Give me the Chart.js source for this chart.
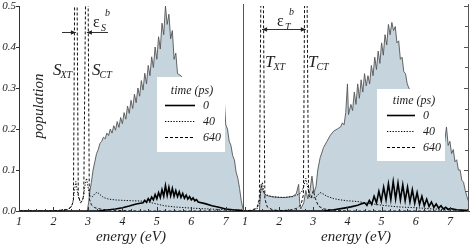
<!DOCTYPE html>
<html>
<head>
<meta charset="utf-8">
<title>Population vs energy</title>
<script src="https://cdn.jsdelivr.net/npm/chart.js"></script>
<style>
  html, body { margin: 0; padding: 0; background: #fff; }
  .wrap { position: relative; width: 470px; height: 247px; overflow: hidden; }
  canvas { position: absolute; top: 0; }
  #singletChart { left: 0; }
  #tripletChart { left: 243px; }
</style>
</head>
<body>
<div class="wrap">
  <canvas id="singletChart" width="243" height="247"></canvas>
  <canvas id="tripletChart" width="227" height="247"></canvas>
</div>
<script>
const SERIF = '"Liberation Serif", "Times New Roman", serif';
const INK = "#222";
const AXIS = "#333";
const FILL = "rgb(197, 212, 221)";
const EDGE = "#555";

const xTicks = [1, 2, 3, 4, 5, 6, 7];
const yTicks = [0, 0.1, 0.2, 0.3, 0.4, 0.5];
const times = ["0", "40", "640"];

// left panel (singlets)
const sRange = [1, 7.5];
const sPeaks = [2.65, 2.97];
const sFill = [
  [2.98, 0], [3.02, 0.02], [3.06, 0.05], [3.1, 0.07], [3.15, 0.1], [3.2, 0.12], [3.25, 0.14],
  [3.3, 0.15], [3.35, 0.165], [3.4, 0.17], [3.45, 0.18], [3.5, 0.176], [3.55, 0.19], [3.6, 0.184],
  [3.65, 0.2], [3.7, 0.19], [3.75, 0.208], [3.8, 0.197], [3.85, 0.218], [3.9, 0.204], [3.95, 0.228],
  [4.0, 0.213], [4.05, 0.24], [4.1, 0.224], [4.15, 0.256], [4.2, 0.238], [4.25, 0.27], [4.3, 0.25],
  [4.35, 0.285], [4.4, 0.264], [4.45, 0.3], [4.5, 0.28], [4.55, 0.318], [4.6, 0.295], [4.65, 0.336],
  [4.7, 0.31], [4.75, 0.355], [4.8, 0.33], [4.85, 0.376], [4.9, 0.35], [4.95, 0.4], [5.0, 0.37],
  [5.05, 0.425], [5.1, 0.395], [5.15, 0.458], [5.2, 0.43], [5.25, 0.5], [5.3, 0.455], [5.35, 0.48],
  [5.4, 0.42], [5.45, 0.44], [5.5, 0.37], [5.55, 0.385], [5.6, 0.335], [5.7, 0.33], [5.8, 0.32],
  [5.9, 0.315], [6.0, 0.31], [6.2, 0.3], [6.4, 0.29], [6.6, 0.285], [6.8, 0.28], [6.9, 0.27],
  [6.95, 0.28], [7.0, 0.21], [7.05, 0.2], [7.1, 0.17], [7.15, 0.16], [7.2, 0.135], [7.25, 0.125],
  [7.3, 0.095], [7.35, 0.08], [7.4, 0.055], [7.45, 0.025], [7.5, 0.005],
];
const s0 = [
  [1, 0], [3.3, 0], [3.5, 0.002], [3.8, 0.005], [4.0, 0.008], [4.2, 0.012], [4.4, 0.017], [4.6, 0.02],
  [4.65, 0.026], [4.7, 0.021], [4.75, 0.03], [4.8, 0.024], [4.85, 0.034], [4.9, 0.027], [4.95, 0.04],
  [5.0, 0.03], [5.05, 0.045], [5.1, 0.033], [5.15, 0.052], [5.2, 0.036], [5.25, 0.062], [5.3, 0.038],
  [5.35, 0.058], [5.4, 0.037], [5.45, 0.055], [5.5, 0.036], [5.55, 0.05], [5.6, 0.035], [5.65, 0.047],
  [5.7, 0.033], [5.75, 0.043], [5.8, 0.031], [5.85, 0.039], [5.9, 0.029], [5.95, 0.035], [6.0, 0.027],
  [6.05, 0.032], [6.1, 0.025], [6.15, 0.028], [6.2, 0.022], [6.4, 0.018], [6.6, 0.013], [6.8, 0.009],
  [7.0, 0.005], [7.2, 0.003], [7.5, 0.001],
];
const s40 = [
  [1, 0], [2.2, 0], [2.4, 0.003], [2.5, 0.008], [2.56, 0.02], [2.61, 0.05], [2.65, 0.072], [2.69, 0.05],
  [2.74, 0.028], [2.8, 0.022], [2.86, 0.03], [2.91, 0.06], [2.96, 0.08], [3.0, 0.06], [3.05, 0.038],
  [3.12, 0.034], [3.2, 0.042], [3.27, 0.046], [3.35, 0.04], [3.45, 0.033], [3.6, 0.029], [3.8, 0.027],
  [4.0, 0.026], [4.3, 0.025], [4.6, 0.024], [4.8, 0.021], [5.0, 0.017], [5.2, 0.013], [5.5, 0.01],
  [6.0, 0.007], [6.5, 0.005], [7.0, 0.003], [7.5, 0.002],
];
const s640 = [
  [1, 0], [2.0, 0], [2.2, 0.002], [2.4, 0.004], [2.52, 0.01], [2.58, 0.025], [2.62, 0.6], [2.68, 0.6],
  [2.72, 0.04], [2.78, 0.02], [2.84, 0.024], [2.88, 0.04], [2.94, 0.6], [3.0, 0.6], [3.04, 0.03],
  [3.1, 0.015], [3.2, 0.008], [3.4, 0.004], [3.7, 0.002], [4.0, 0.001], [4.5, 0], [7.5, 0],
];

// right panel (triplets)
const tRange = [0.94, 7.56];
const tPeaks = [1.5, 2.78];
const tFill = [
  [1.42, 0], [1.47, 0.065], [1.52, 0.05], [1.58, 0.04], [1.7, 0.036], [1.85, 0.034], [2.0, 0.033],
  [2.2, 0.033], [2.4, 0.036], [2.5, 0.042], [2.57, 0.065], [2.6, 0.02], [2.63, 0.005], [2.72, 0.02],
  [2.78, 0.05], [2.84, 0.03], [2.9, 0.05], [2.96, 0.085], [3.02, 0.045], [3.08, 0.06], [3.13, 0.1],
  [3.2, 0.13], [3.3, 0.155], [3.4, 0.17], [3.5, 0.185], [3.6, 0.195], [3.7, 0.2], [3.8, 0.205],
  [3.85, 0.215], [3.9, 0.21], [3.95, 0.24], [4.0, 0.31], [4.03, 0.235], [4.1, 0.26], [4.15, 0.245],
  [4.2, 0.29], [4.25, 0.26], [4.3, 0.31], [4.35, 0.275], [4.4, 0.32], [4.45, 0.29], [4.5, 0.335],
  [4.55, 0.305], [4.6, 0.33], [4.65, 0.31], [4.7, 0.355], [4.75, 0.33], [4.8, 0.375], [4.85, 0.345],
  [4.9, 0.39], [4.95, 0.36], [5.0, 0.41], [5.05, 0.38], [5.1, 0.43], [5.15, 0.405], [5.2, 0.455],
  [5.25, 0.43], [5.3, 0.46], [5.35, 0.44], [5.4, 0.45], [5.45, 0.41], [5.5, 0.415], [5.55, 0.37],
  [5.6, 0.375], [5.65, 0.34], [5.7, 0.335], [5.75, 0.31], [5.8, 0.3], [5.9, 0.28], [6.1, 0.26],
  [6.3, 0.24], [6.5, 0.22], [6.7, 0.2], [6.85, 0.17], [6.9, 0.205], [6.95, 0.16], [7.0, 0.17],
  [7.05, 0.14], [7.1, 0.15], [7.15, 0.12], [7.2, 0.125], [7.25, 0.1], [7.3, 0.1], [7.35, 0.075],
  [7.4, 0.07], [7.45, 0.05], [7.5, 0.035], [7.56, 0.02],
];
const t0 = [
  [0.94, 0], [3.3, 0], [3.6, 0.003], [3.9, 0.007], [4.1, 0.01], [4.3, 0.014], [4.43, 0.018],
  [4.5, 0.02], [4.57, 0.014], [4.64, 0.026], [4.71, 0.016], [4.78, 0.036], [4.85, 0.02], [4.92, 0.048],
  [4.99, 0.024], [5.06, 0.058], [5.13, 0.027], [5.2, 0.066], [5.27, 0.028], [5.34, 0.072], [5.41, 0.029],
  [5.48, 0.068], [5.55, 0.027], [5.62, 0.064], [5.69, 0.025], [5.76, 0.058], [5.83, 0.022], [5.9, 0.052],
  [5.97, 0.019], [6.04, 0.045], [6.11, 0.016], [6.18, 0.036], [6.25, 0.013], [6.32, 0.029], [6.39, 0.011],
  [6.46, 0.022], [6.53, 0.009], [6.6, 0.017], [6.67, 0.007], [6.74, 0.013], [6.81, 0.005], [6.88, 0.009],
  [6.95, 0.004], [7.02, 0.006], [7.2, 0.003], [7.56, 0.001],
];
const t40 = [
  [0.94, 0], [1.2, 0.001], [1.35, 0.005], [1.42, 0.02], [1.47, 0.055], [1.51, 0.07], [1.55, 0.045],
  [1.6, 0.04], [1.8, 0.035], [2.1, 0.033], [2.4, 0.035], [2.55, 0.04], [2.65, 0.045], [2.72, 0.06],
  [2.78, 0.08], [2.84, 0.055], [2.9, 0.04], [3.0, 0.032], [3.1, 0.036], [3.2, 0.045], [3.28, 0.042],
  [3.4, 0.036], [3.6, 0.03], [3.8, 0.027], [4.0, 0.025], [4.3, 0.023], [4.6, 0.019], [5.0, 0.014],
  [5.5, 0.01], [6.0, 0.008], [6.5, 0.005], [7.0, 0.003], [7.56, 0.001],
];
const t640 = [
  [0.94, 0], [1.2, 0.002], [1.35, 0.008], [1.42, 0.03], [1.47, 0.6], [1.53, 0.6], [1.58, 0.03],
  [1.65, 0.01], [1.8, 0.003], [2.0, 0.001], [2.3, 0.002], [2.5, 0.006], [2.64, 0.015], [2.71, 0.04],
  [2.75, 0.6], [2.81, 0.6], [2.86, 0.04], [2.93, 0.03], [3.0, 0.05], [3.06, 0.03], [3.15, 0.012],
  [3.3, 0.005], [3.6, 0.002], [4.0, 0], [7.56, 0],
];

const lineStyles = [
  { borderWidth: 1.6, borderDash: [] },
  { borderWidth: 1, borderDash: [1.3, 1.5] },
  { borderWidth: 1, borderDash: [3, 2] },
];

function series(fillPts, p0, p40, p640) {
  const pts = (arr) => arr.map(([x, y]) => ({ x, y }));
  return [
    { label: "0", data: pts(p0), borderColor: "#000", order: 0, ...lineStyles[0] },
    { label: "40", data: pts(p40), borderColor: "#111", order: 1, ...lineStyles[1] },
    { label: "640", data: pts(p640), borderColor: "#111", order: 2, ...lineStyles[2] },
    { label: "spectrum", data: pts(fillPts), borderColor: EDGE, borderWidth: 0.9, backgroundColor: FILL, fill: "origin", order: 3 },
  ];
}

function makeScales(range, showY) {
  return {
    x: {
      type: "linear",
      min: range[0],
      max: range[1],
      afterBuildTicks: (s) => { s.ticks = xTicks.map((value) => ({ value })); },
      afterFit: (s) => { s.height = 36; s.paddingLeft = 0; s.paddingRight = 0; },
      grid: { display: false, drawTicks: false },
      border: { display: true, color: AXIS, width: 1 },
      ticks: { color: INK, padding: 4, font: { family: SERIF, style: "italic", size: 12 } },
      title: {
        display: true,
        text: "energy (eV)",
        color: INK,
        padding: { top: 0, bottom: 1 },
        font: { family: SERIF, style: "italic", size: 15 },
      },
    },
    y: {
      display: showY,
      min: 0,
      max: 0.5,
      afterBuildTicks: (s) => { s.ticks = yTicks.map((value) => ({ value })); },
      afterFit: (s) => { s.width = showY ? 19 : 0; s.paddingTop = 0; s.paddingBottom = 0; },
      grid: { display: false, drawTicks: false },
      border: { display: true, color: AXIS, width: 1 },
      ticks: {
        color: INK,
        padding: 3,
        callback: (v) => Number(v).toFixed(1),
        font: { family: SERIF, style: "italic", size: 11 },
      },
    },
  };
}

function arrow(ctx, x0, x1, yy) {
  const dir = Math.sign(x1 - x0);
  ctx.beginPath();
  ctx.moveTo(x0, yy);
  ctx.lineTo(x1, yy);
  ctx.stroke();
  ctx.beginPath();
  ctx.moveTo(x1, yy);
  ctx.lineTo(x1 - dir * 5, yy - 2.2);
  ctx.lineTo(x1 - dir * 5, yy + 2.2);
  ctx.closePath();
  ctx.fill();
}

function stateLabel(ctx, x0, yb, main, sub) {
  ctx.font = `italic 17px ${SERIF}`;
  ctx.fillText(main, x0, yb);
  const w = ctx.measureText(main).width;
  ctx.font = `italic 10px ${SERIF}`;
  ctx.fillText(sub, x0 + w - 1, yb + 3);
}

function gapLabel(ctx, x0, yb, sub) {
  ctx.font = `16px ${SERIF}`;
  ctx.fillText("\u03b5", x0, yb);
  ctx.font = `italic 10px ${SERIF}`;
  ctx.fillText(sub, x0 + 8, yb + 4);
  ctx.fillText("b", x0 + 12, yb - 11);
}

function drawLegend(ctx, chart, L) {
  ctx.fillStyle = "#fff";
  ctx.fillRect(L.x, L.y, L.w, L.h);
  ctx.fillStyle = INK;
  ctx.font = `italic 12px ${SERIF}`;
  ctx.textAlign = "center";
  ctx.textBaseline = "middle";
  ctx.fillText("time (ps)", L.titleX, L.titleY);
  ctx.textAlign = "left";
  times.forEach((t, i) => {
    const ds = chart.data.datasets[i];
    const yy = L.rows[i] + 0.5;
    ctx.strokeStyle = "#000";
    ctx.lineWidth = ds.borderWidth;
    ctx.setLineDash(ds.borderDash);
    ctx.beginPath();
    ctx.moveTo(L.lineX0, yy);
    ctx.lineTo(L.lineX1, yy);
    ctx.stroke();
    ctx.fillText(t, L.textX, yy);
  });
  ctx.setLineDash([]);
}

function decor(side) {
  return {
    id: "decor",
    afterDraw(chart) {
      const { ctx, chartArea: a } = chart;
      const { x, y } = chart.scales;
      ctx.save();
      ctx.lineWidth = 1;
      ctx.strokeStyle = AXIS;
      ctx.fillStyle = INK;

      // energy ticks point up into the plot
      ctx.beginPath();
      for (let i = Math.ceil(x.min * 4); i <= Math.floor(x.max * 4); i++) {
        const px = Math.round(x.getPixelForValue(i / 4)) + 0.5;
        ctx.moveTo(px, a.bottom);
        ctx.lineTo(px, a.bottom - (i % 4 === 0 ? 4 : 2));
      }
      ctx.stroke();

      ctx.textAlign = "left";
      ctx.textBaseline = "alphabetic";
      if (side === "left") {
        ctx.beginPath();
        yTicks.forEach((v) => {
          const py = Math.round(y.getPixelForValue(v)) + 0.5;
          ctx.moveTo(a.left - 3, py);
          ctx.lineTo(a.left, py);
        });
        ctx.stroke();

        ctx.save();
        ctx.translate(39, 106);
        ctx.rotate(-Math.PI / 2);
        ctx.font = `italic 15px ${SERIF}`;
        ctx.textAlign = "center";
        ctx.textBaseline = "middle";
        ctx.fillText("population", 0, 0);
        ctx.restore();

        stateLabel(ctx, 53, 75, "S", "XT");
        stateLabel(ctx, 92, 75, "S", "CT");
        gapLabel(ctx, 93, 27, "S");
        const [p1, p2] = sPeaks.map((e) => x.getPixelForValue(e));
        arrow(ctx, 62, p1, 32.5);
        arrow(ctx, 108, p2, 32.5);

        drawLegend(ctx, chart, {
          x: 157, y: 77, w: 68, h: 75, titleX: 192, titleY: 91,
          rows: [105, 121, 137], lineX0: 165, lineX1: 195, textX: 203,
        });
      } else {
        ctx.strokeStyle = "#555";
        ctx.beginPath();
        ctx.moveTo(a.left + 0.5, a.top - 2);
        ctx.lineTo(a.left + 0.5, a.bottom);
        ctx.moveTo(a.right - 0.5, a.top - 2);
        ctx.lineTo(a.right - 0.5, a.bottom);
        for (let i = 0; i <= 10; i++) {
          const py = Math.round(y.getPixelForValue(i * 0.05)) + 0.5;
          ctx.moveTo(a.right, py);
          ctx.lineTo(a.right - (i % 2 === 0 ? 5 : 4), py);
        }
        ctx.stroke();

        ctx.strokeStyle = AXIS;
        stateLabel(ctx, 22, 67, "T", "XT");
        stateLabel(ctx, 65, 67, "T", "CT");
        gapLabel(ctx, 34, 26, "T");
        const [p1, p2] = tPeaks.map((e) => x.getPixelForValue(e));
        const mid = (p1 + p2) / 2;
        arrow(ctx, mid, p1, 29.5);
        arrow(ctx, mid, p2, 29.5);

        drawLegend(ctx, chart, {
          x: 134, y: 89, w: 68, h: 72, titleX: 171, titleY: 101,
          rows: [115, 131, 147], lineX0: 144, lineX1: 172, textX: 180,
        });
      }
      ctx.restore();
    },
  };
}

function buildChart(id, side, range, data) {
  return new Chart(document.getElementById(id), {
    type: "line",
    data: { datasets: data },
    options: {
      responsive: false,
      animation: false,
      events: [],
      layout: { padding: { top: 6, right: side === "left" ? 0 : 1, left: 0, bottom: 0 } },
      elements: { point: { radius: 0 }, line: { tension: 0 } },
      plugins: { legend: { display: false }, tooltip: { enabled: false } },
      scales: makeScales(range, side === "left"),
    },
    plugins: [decor(side)],
  });
}

buildChart("singletChart", "left", sRange, series(sFill, s0, s40, s640));
buildChart("tripletChart", "right", tRange, series(tFill, t0, t40, t640));
</script>
</body>
</html>
